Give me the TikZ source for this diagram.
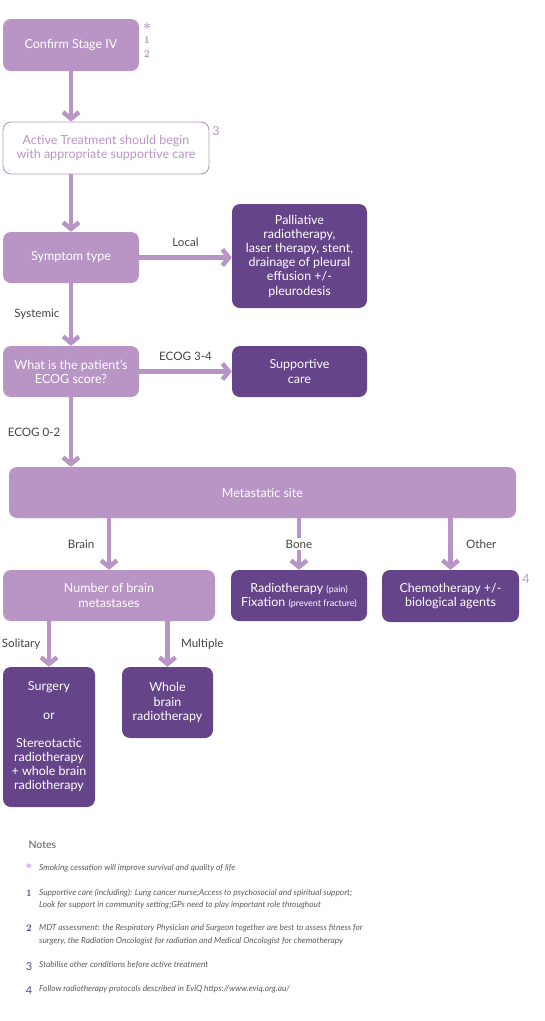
\documentclass[tikz,border=0pt]{standalone}
\usepackage{fontspec}
\setsansfont{Lato}
\usetikzlibrary{arrows.meta}

\definecolor{lilac}{HTML}{B995C6}
\definecolor{plum}{HTML}{654489}
\definecolor{labelgray}{HTML}{444444}
\definecolor{notegray}{HTML}{5A5A5A}
\definecolor{notemark}{HTML}{5E4A8C}

\tikzset{
	box/.style={rounded corners=8pt, align=center, inner sep=2pt,
		font=\sffamily\fontsize{12.5}{14.2}\selectfont},
	lightbox/.style={box, fill=lilac, text=white},
	darkbox/.style={box, fill=plum, text=white},
	openbox/.style={box, draw=lilac, line width=0.9pt, fill=white, text=lilac},
	flow/.style={draw=lilac, line width=4.5pt, -{Straight Barb[length=6.5pt,width=16pt]}},
	lbl/.style={font=\sffamily\fontsize{11.6}{14}\selectfont, text=labelgray},
	refmark/.style={font=\rmfamily\bfseries\fontsize{10.5}{10}\selectfont, text=lilac, inner sep=0pt},
	notetext/.style={font=\sffamily\itshape\fontsize{8.3}{12.5}\selectfont, text=notegray,
		anchor=west, align=left, inner sep=0pt},
	notemarkstyle/.style={font=\rmfamily\bfseries\fontsize{10}{10}\selectfont, text=notemark, inner sep=0pt},
}

\begin{document}
\begin{tikzpicture}[x=1pt, y=-1pt]
	\useasboundingbox (0,0) rectangle (544,1021);

	% === BOXES === (((
	\node [lightbox, minimum width=136pt, minimum height=52pt] (confirm) at (71,45) {Confirm Stage IV};
	\node [openbox, minimum width=206pt, minimum height=52pt] (active) at (106,148)
		{Active Treatment should begin\\with appropriate supportive care};
	\node [lightbox, minimum width=136pt, minimum height=51pt] (symptom) at (71,257.5) {Symptom type};
	\node [darkbox, minimum width=135pt, minimum height=104pt] (palliative) at (299.5,256)
		{Palliative\\radiotherapy,\\laser therapy, stent,\\drainage of pleural\\effusion +/-\\pleurodesis};
	\node [lightbox, minimum width=136pt, minimum height=51pt] (ecog) at (71,371.5)
		{What is the patient’s\\ECOG score?};
	\node [darkbox, minimum width=135pt, minimum height=51pt] (supportive) at (299.5,371.5)
		{Supportive\\care};
	\node [lightbox, minimum width=507pt, minimum height=51pt] (meta) at (262.5,492.5) {Metastatic site};
	\node [lightbox, minimum width=212pt, minimum height=51pt] (number) at (109,595.5)
		{Number of brain\\metastases};
	\node [darkbox, minimum width=136pt, minimum height=51pt] (radio) at (299,595.5)
		{Radiotherapy {\fontsize{9}{14}\selectfont(pain)}\\Fixation {\fontsize{9}{14}\selectfont(prevent fracture)}};
	\node [darkbox, minimum width=137pt, minimum height=52pt] (chemo) at (450.5,596)
		{Chemotherapy +/-\\biological agents};
	\node [darkbox, minimum width=92pt, minimum height=140pt] (surgery) at (49,737)
		{Surgery\\[14pt]or\\[14pt]Stereotactic\\radiotherapy\\+ whole brain\\radiotherapy};
	\node [darkbox, minimum width=91pt, minimum height=71pt] (whole) at (167.5,702.5)
		{Whole\\brain\\radiotherapy};
	% )))

	% === REFERENCE MARKS === (((
	\node [refmark, font=\rmfamily\bfseries\fontsize{14}{14}\selectfont] (mstar) at (147,28) {*};
	\node [refmark] (mone) at (147,40) {1};
	\node [refmark] (mtwo) at (147,54) {2};
	\node [refmark, font=\sffamily\fontsize{12.5}{12}\selectfont] (mthree) at (216,131) {3};
	\node [refmark, font=\sffamily\fontsize{12.5}{12}\selectfont] (mfour) at (526,579) {4};
	% )))

	% === CONNECTORS === (((
	\draw [flow] (confirm.south) -- (confirm.south |- active.north);
	\draw [flow] (symptom.north |- active.south) -- (symptom.north);
	\draw [flow] (symptom.east) -- (symptom.east -| palliative.west)
		node [lbl, midway, above=5pt] {Local};
	\draw [flow] (symptom.south) -- (ecog.north)
		node [lbl, midway, left=6pt] {Systemic};
	\draw [flow] (ecog.east) -- (ecog.east -| supportive.west)
		node [lbl, midway, above=5pt] {ECOG 3-4};
	\draw [flow] (ecog.south) -- (ecog.south |- meta.north)
		node [lbl, midway, left=5pt] {ECOG 0-2};
	\draw [flow] (number.north |- meta.south) -- (number.north)
		node [lbl, midway, left=9pt] {Brain};
	\draw [flow] (radio.north |- meta.south) -- (radio.north)
		node [lbl, midway, fill=white, inner sep=1.5pt] {Bone};
	\draw [flow] (chemo.north |- meta.south) -- (chemo.north)
		node [lbl, midway, right=10pt] {Other};
	\draw [flow] (surgery.north |- number.south) -- (surgery.north)
		node [lbl, midway, left=3pt] {Solitary};
	\draw [flow] (whole.north |- number.south) -- (whole.north)
		node [lbl, midway, right=8pt] {Multiple};
	% )))

	% === NOTES === (((
	\node [lbl, anchor=west, text=notegray, font=\sffamily\fontsize{10.5}{12}\selectfont] (notes) at (25,845) {Notes};
	\node [notemarkstyle, text=lilac, font=\rmfamily\bfseries\fontsize{12}{12}\selectfont] (nstar) at (29,868) {*};
	\node [notetext] (tstar) at (39,868) {Smoking cessation will improve survival and quality of life};
	\node [notemarkstyle] (none) at (29,893) {1};
	\node [notetext] (tone) at (39,899)
		{Supportive care (including): Lung cancer nurse;Access to psychosocial and spiritual support;\\
		Look for support in community setting;GPs need to play important role throughout};
	\node [notemarkstyle] (ntwo) at (29,928) {2};
	\node [notetext] (ttwo) at (39,934.5)
		{MDT assessment: the Respiratory Physician and Surgeon together are best to assess fitness for\\
		surgery, the Radiation Oncologist for radiation and Medical Oncologist for chemotherapy};
	\node [notemarkstyle, font=\sffamily\fontsize{11}{11}\selectfont] (nthree) at (29,967) {3};
	\node [notetext] (tthree) at (39,965) {Stabilise other conditions before active treatment};
	\node [notemarkstyle, font=\sffamily\fontsize{11}{11}\selectfont] (nfour) at (29,991) {4};
	\node [notetext] (tfour) at (39,989) {Follow radiotherapy protocols described in EviQ https://www.eviq.org.au/};
	% )))

\end{tikzpicture}
\end{document}
